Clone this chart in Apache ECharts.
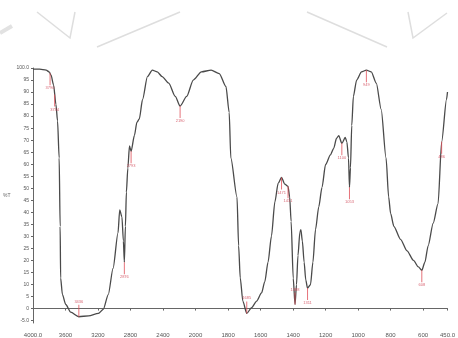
<!DOCTYPE html>
<html>
<head>
<meta charset="utf-8">
<script src="https://cdn.jsdelivr.net/npm/echarts@6/dist/echarts.min.js"></script>
<style>
  html, body { margin: 0; padding: 0; background: #fff; }
  #chart { width: 458px; height: 338px; }
</style>
</head>
<body>
<div id="chart"></div>
<script>
// IR spectrum, %T vs wavenumber (cm-1)
const wavenumbers = [
  4000, 3919, 3838, 3798, 3778, 3747, 3718, 3698, 3678, 3666, 3660, 3638, 3597, 3537,
  3436, 3316, 3195, 3135, 3074, 3015, 2954, 2933, 2906, 2888, 2876, 2863, 2851, 2833,
  2813, 2793, 2752, 2721, 2692, 2652, 2592, 2532, 2471, 2411, 2330, 2250, 2190, 2109,
  2028, 1964, 1904, 1854, 1813, 1793, 1783, 1745, 1735, 1725, 1709, 1685, 1655, 1624,
  1594, 1574, 1554, 1533, 1512, 1492, 1471, 1451, 1431, 1421, 1412, 1399, 1388, 1379,
  1370, 1358, 1352, 1343, 1332, 1322, 1311, 1293, 1278, 1262, 1242, 1222, 1200, 1170,
  1150, 1133, 1119, 1100, 1079, 1069, 1059, 1053, 1047, 1039, 1029, 1009, 979, 949,
  919, 888, 858, 828, 812, 800, 780, 739, 699, 659, 629, 608, 589, 569, 538, 508,
  486, 456, 450
];
const transmittance = [
  99.5, 99.5, 99.1, 98.3, 97.0, 93.0, 84.9, 78.0, 62.6, 34.2, 12.7, 5.8, 1.7, -1.5,
  -3.4, -3.0, -2.0, -0.3, 5.8, 16.7, 31.5, 41.0, 38.2, 28.1, 19.3, 34.2, 48.4, 58.4,
  67.6, 65.4, 72.0, 77.5, 78.8, 86.9, 96.4, 99.1, 98.4, 96.4, 93.7, 88.2, 84.2, 88.2,
  95.0, 98.4, 99.1, 97.7, 92.3, 81.5, 62.6, 46.4, 26.1, 12.7, 3.1, -2.0, 0.4, 3.1,
  6.5, 11.2, 19.3, 30.1, 44.3, 52.0, 54.5, 51.7, 50.8, 46.4, 36.2, 12.6, 1.7, 9.9,
  22.0, 31.8, 32.8, 28.1, 19.3, 11.9, 8.5, 9.9, 19.3, 32.8, 42.3, 50.4, 59.9, 63.9,
  66.6, 70.7, 71.9, 68.7, 71.1, 69.3, 62.6, 50.4, 58.5, 76.1, 88.2, 95.0, 98.4, 99.1,
  98.4, 93.7, 82.8, 62.6, 46.4, 39.6, 34.2, 28.8, 24.0, 20.0, 17.3, 15.9, 19.3, 26.1, 35.5, 43.6,
  69.3, 86.9, 90.0
];

// peak picks (red labels)
const peakWavenumbers = [3790, 3734, 3436, 2876, 2793, 2190, 1685, 1471, 1431, 1388, 1311, 1100, 1053, 949, 608, 486];
const peakValues = [97.8, 89.0, -3.4, 19.3, 65.4, 84.2, -2.0, 54.5, 50.8, 1.7, 8.5, 68.7, 50.4, 99.1, 15.9, 69.3];

// axis ticks
const xTickWavenumbers = [4000, 3600, 3200, 2800, 2400, 2000, 1800, 1600, 1400, 1200, 1000, 800, 600, 450];
const xTickLabels = ['4000.0', '3600', '3200', '2800', '2400', '2000', '1800', '1600', '1400', '1200', '1000', '800', '600', '450.0'];
const yTickValues = [-5, 0, 5, 10, 15, 20, 25, 30, 35, 40, 45, 50, 55, 60, 65, 70, 75, 80, 85, 90, 95, 100];

// Spectrometer scale: 400 cm-1 per division above 2000, 200 cm-1 per division below
function toAxisPos(wn) {
  return wn >= 2000 ? (4000 - wn) / 400 : 5 + (2000 - wn) / 200;
}

const spectrum = wavenumbers.map((wn, i) => [toAxisPos(wn), transmittance[i]]);
const xTickPos = xTickWavenumbers.map(toAxisPos);

const peaks = peakWavenumbers.map((wn, i) => {
  const up = peakValues[i] < 5;
  return {
    value: [toAxisPos(wn), peakValues[i]],
    symbolOffset: [0, up ? -6 : 6],
    label: { position: up ? 'top' : 'bottom', distance: 1 },
  };
});

// faint watermark strokes from the scanned page
const watermark = [
  [[37, 12], [70, 38], [75, 12]],
  [[97, 47], [180, 12]],
  [[307, 12], [387, 47]],
  [[408, 12], [413, 38], [447, 13]],
];

const chart = echarts.init(document.getElementById('chart'), null, { renderer: 'canvas' });

chart.setOption({
  animation: false,
  backgroundColor: '#fff',
  textStyle: { fontFamily: 'Arial, "Liberation Sans", sans-serif' },
  graphic: watermark.map((pts) => ({
    type: 'polyline',
    shape: { points: pts },
    style: { stroke: '#dedede', lineWidth: 1.5, fill: null },
    silent: true,
  })).concat([{
    type: 'line',
    shape: { x1: 0, y1: 33, x2: 12, y2: 26 },
    style: { stroke: '#e2e2e2', lineWidth: 4 },
    silent: true,
  }]),
  grid: { left: 33, right: 2, top: 68, bottom: 9 },
  xAxis: {
    type: 'value',
    min: 0,
    max: toAxisPos(450),
    axisLine: { lineStyle: { color: '#666', width: 1 } },
    axisTick: { customValues: xTickPos, length: 2, lineStyle: { color: '#666' } },
    axisLabel: {
      customValues: xTickPos,
      formatter: (v) => {
        const i = xTickPos.findIndex((p) => Math.abs(p - v) < 1e-6);
        return i >= 0 ? xTickLabels[i] : '';
      },
      fontSize: 6,
      color: '#555',
      margin: 9,
    },
    splitLine: { show: false },
  },
  yAxis: {
    type: 'value',
    min: -6,
    max: 100,
    name: '%T',
    nameLocation: 'middle',
    nameRotate: 0,
    nameGap: 14,
    nameTextStyle: { fontSize: 5, color: '#666' },
    axisLine: { show: true, lineStyle: { color: '#666', width: 1 } },
    axisTick: { show: true, customValues: yTickValues, length: 2, lineStyle: { color: '#666' } },
    axisLabel: {
      customValues: yTickValues,
      formatter: (v) => (v === 100 ? '100.0' : v === -5 ? '-5.0' : String(v)),
      fontSize: 5,
      color: '#555',
      margin: 4,
    },
    splitLine: { show: false },
  },
  series: [
    {
      name: 'spectrum',
      type: 'line',
      data: spectrum,
      showSymbol: false,
      smooth: 0.25,
      smoothMonotone: 'x',
      lineStyle: { color: '#4a4a4a', width: 1.3 },
      z: 3,
    },
    {
      name: 'peaks',
      type: 'scatter',
      data: peaks,
      symbol: 'rect',
      symbolSize: [1, 12],
      itemStyle: { color: '#e0505a' },
      label: {
        show: true,
        formatter: (p) => String(peakWavenumbers[p.dataIndex]),
        fontSize: 4,
        color: '#d04050',
      },
      z: 4,
    },
  ],
});
</script>
</body>
</html>
